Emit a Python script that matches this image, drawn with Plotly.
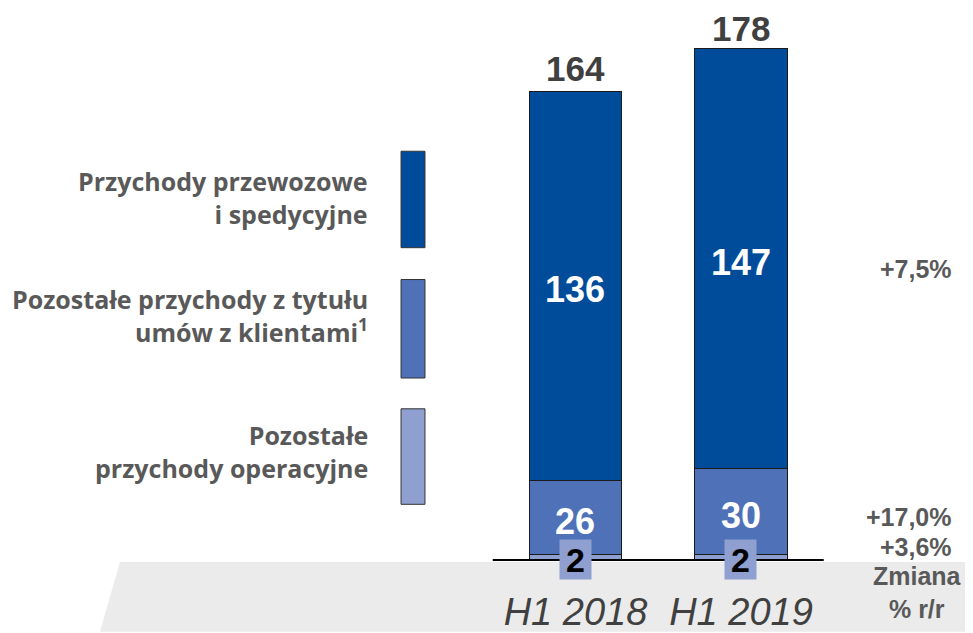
import plotly.graph_objects as go

# --- data ------------------------------------------------------------------ #
categories = ["H1 2018", "H1 2019"]
operating = [2, 2]          # Pozostałe przychody operacyjne
contracts = [26, 30]        # Pozostałe przychody z tytułu umów z klientami
transport = [136, 147]      # Przychody przewozowe i spedycyjne
totals = [164, 178]
changes = ["+3,6%", "+17,0%", "+7,5%"]   # operating, contracts, transport
legend_labels = [
    "Przychody przewozowe<br>i spedycyjne",
    "Pozostałe przychody z tytułu<br>umów z klientami<sup>1</sup>",
    "Pozostałe<br>przychody operacyjne",
]

# --- style ------------------------------------------------------------------ #
DARK = "#004C9A"
MID = "#4E71B8"
LIGHT = "#8E9FD0"
OUTLINE = "#1a1a1a"
TEXT_GRAY = "#595959"
TOTAL_GRAY = "#404040"
BAND = "#ebebeb"
ARIAL = "Arial, Liberation Sans, sans-serif"
LEGEND_FONT = "Open Sans, sans-serif"

fig = go.Figure()
for vals, color in [(operating, LIGHT), (contracts, MID), (transport, DARK)]:
    fig.add_trace(go.Bar(
        x=categories, y=vals, width=0.56,
        marker=dict(color=color, line=dict(color=OUTLINE, width=1)),
        hoverinfo="skip", showlegend=False,
    ))

annotations = []
# segment labels
for i, cat in enumerate(categories):
    base = operating[i]
    annotations.append(dict(x=cat, y=base + contracts[i] / 2, text=f"<b>{contracts[i]}</b>",
                            showarrow=False, yshift=-4, font=dict(family=ARIAL, size=36, color="white")))
    base += contracts[i]
    annotations.append(dict(x=cat, y=base + transport[i] / 2, text=f"<b>{transport[i]}</b>",
                            showarrow=False, yshift=-4, font=dict(family=ARIAL, size=36, color="white")))
    annotations.append(dict(x=cat, y=operating[i] / 2, text=f"<b>{operating[i]}</b>",
                            showarrow=False, yshift=-2, width=31, height=39, borderpad=0,
                            bgcolor=LIGHT, font=dict(family=ARIAL, size=34, color="black")))
    annotations.append(dict(x=cat, y=totals[i], text=f"<b>{totals[i]}</b>", showarrow=False,
                            yanchor="bottom", yshift=1,
                            font=dict(family=ARIAL, size=35, color=TOTAL_GRAY)))

# y/y change column, aligned with the latest bar's segments
last = len(categories) - 1
mids = [operating[last] / 2,
        operating[last] + contracts[last] / 2,
        operating[last] + contracts[last] + transport[last] / 2]
for txt, ym, ys in zip(changes, mids, [10, -6, -10]):
    annotations.append(dict(xref="paper", x=0.9803, xanchor="right", yanchor="middle", y=ym, yshift=ys,
                            text=f"<b>{txt}</b>", showarrow=False,
                            font=dict(family=ARIAL, size=25, color=TEXT_GRAY)))
annotations.append(dict(xref="paper", yref="paper", x=0.943, y=-0.0595, xanchor="center", yanchor="middle",
                        text="<b>Zmiana<br>% r/r</b>", showarrow=False, align="center",
                        font=dict(family=ARIAL, size=25, color=TEXT_GRAY)))

# legend on the left
legend_y = [0.6559, 0.4432, 0.1964]
swatches = [(0.7405, 0.5658, DARK), (0.5081, 0.3297, MID), (0.2739, 0.1009, LIGHT)]
shapes = []
for lbl, ly, (y1, y0, col) in zip(legend_labels, legend_y, swatches):
    annotations.append(dict(xref="paper", yref="paper", x=0.3751, y=ly, xanchor="right", yanchor="middle",
                            align="right", text=lbl, showarrow=False,
                            font=dict(family=LEGEND_FONT, size=25, weight=700, color=TEXT_GRAY)))
    shapes.append(dict(type="rect", xref="paper", yref="paper", x0=0.4073, x1=0.4321, y0=y0, y1=y1,
                       fillcolor=col, line=dict(color="#333333", width=1)))

# grey floor band and baseline
shapes.append(dict(type="path", xref="paper", yref="paper", layer="below",
                   path="M 0.116,-0.0036 L 1,-0.0036 L 1,-0.13 L 0.0953,-0.13 Z",
                   fillcolor=BAND, line=dict(width=0)))
shapes.append(dict(type="line", xref="x", yref="paper", x0=-0.5, x1=1.5, y0=0, y1=0,
                   line=dict(color="black", width=2)))

fig.update_layout(
    width=965, height=625, barmode="stack",
    margin=dict(l=0, r=0, t=0, b=70),
    paper_bgcolor="white", plot_bgcolor="rgba(0,0,0,0)",
    annotations=annotations, shapes=shapes,
    xaxis=dict(type="category", range=[-3.429, 2.402], showgrid=False, showline=False, zeroline=False,
               ticks="", ticklabelstandoff=26,
               tickfont=dict(family=ARIAL, size=38, style="italic", color=TOTAL_GRAY)),
    yaxis=dict(range=[0, 193.2], visible=False),
)

fig.write_html("out.html")
